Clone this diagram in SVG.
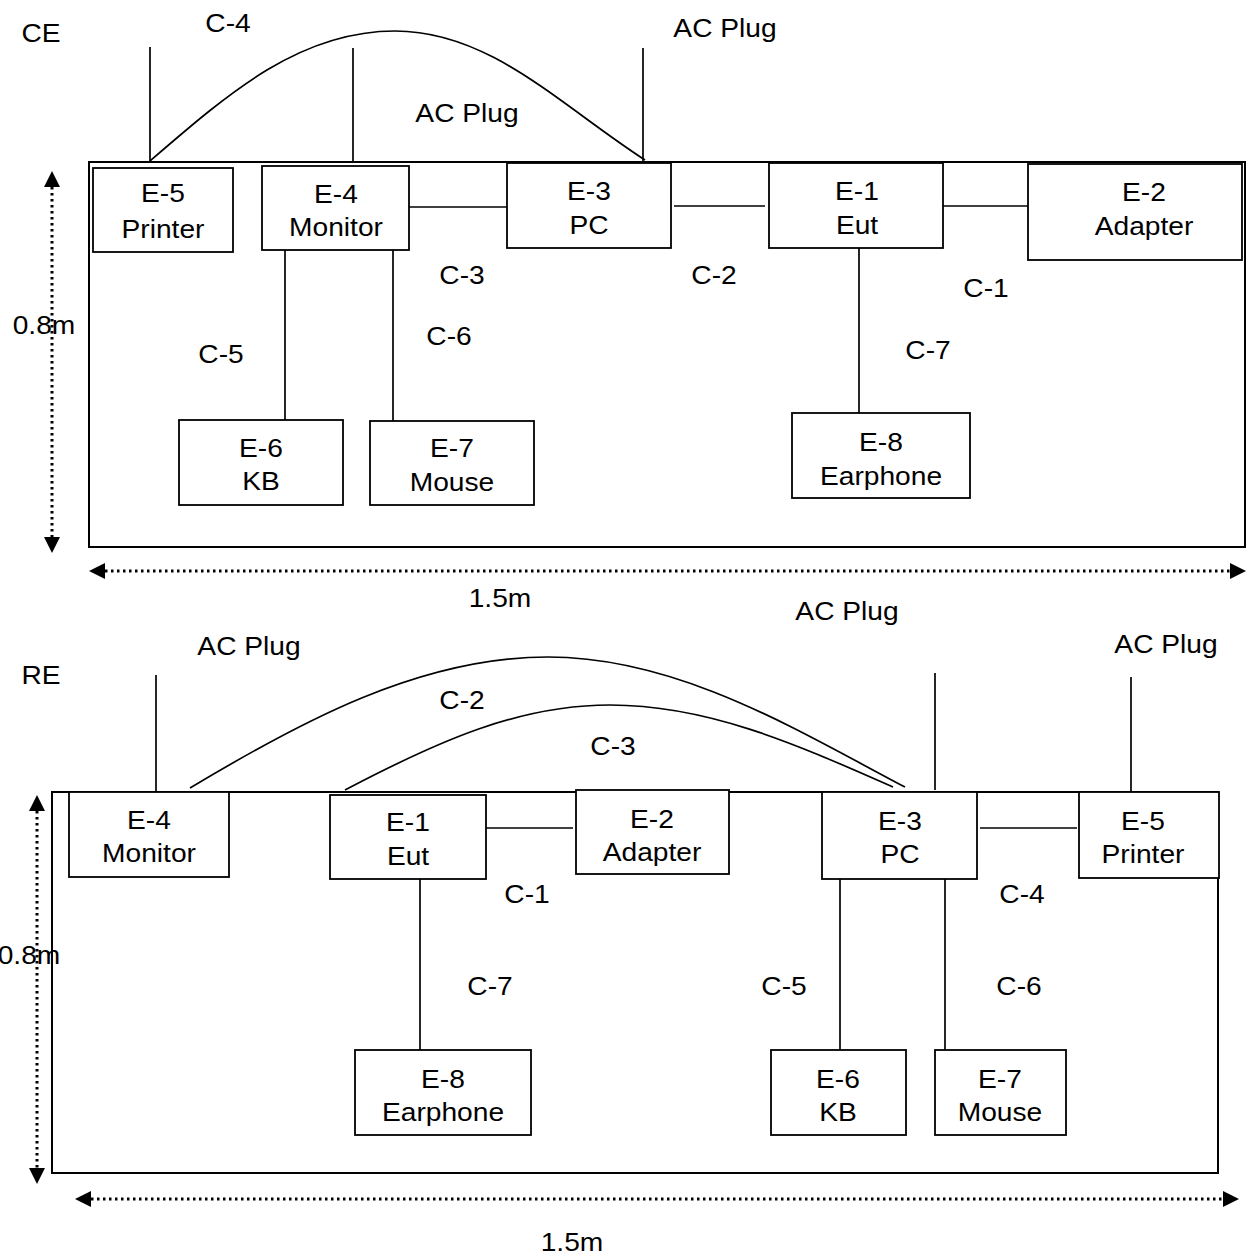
<svg xmlns="http://www.w3.org/2000/svg" width="1247" height="1260" viewBox="0 0 1247 1260">
<defs>
<style>
.bx{fill:#fff;stroke:#000;stroke-width:1.8}
.frame{fill:none;stroke:#000;stroke-width:2}
.ln{fill:none;stroke:#000;stroke-width:1.7}
.dim{fill:none;stroke:#000;stroke-width:3;stroke-dasharray:2.5 3.5}
.t{font-family:"Liberation Sans",Arial,sans-serif;font-size:25.6px;fill:#000;text-anchor:middle}
</style>
<marker id="ah" viewBox="0 0 16 16" refX="0" refY="8" markerWidth="16" markerHeight="16" markerUnits="userSpaceOnUse" orient="auto-start-reverse">
<path d="M0,0 L16,8 L0,16 Z" fill="#000"/>
</marker>
</defs>
<rect width="1247" height="1260" fill="#fff"/>

<!-- ===== CE section ===== -->
<rect id="ce-frame" class="frame" x="89" y="162" width="1156" height="385"/>

<g id="connectors-ce">
<path class="ln" d="M150,47 V162"/>
<path class="ln" d="M353,48 V162"/>
<path class="ln" d="M643,48 V162"/>
<path class="ln" d="M150,161 C230,92 300,31 395,31 C490,31 560,105 645,160"/>
<path class="ln" d="M409,207 H507"/>
<path class="ln" d="M674,206 H765"/>
<path class="ln" d="M938,206 H1029"/>
<path class="ln" d="M859,248 V413"/>
<path class="ln" d="M285,250 V420"/>
<path class="ln" d="M393,250 V421"/>
<path class="dim" d="M52,187 V537" marker-start="url(#ah)" marker-end="url(#ah)"/>
<path class="dim" d="M105,571 H1230" marker-start="url(#ah)" marker-end="url(#ah)"/>
</g>

<g id="ce-E5"><rect class="bx" x="93" y="168" width="140" height="84"/>
<text class="t" transform="translate(163,202) scale(1.1,1)">E-5</text>
<text class="t" transform="translate(163,238) scale(1.1,1)">Printer</text></g>
<g id="ce-E4"><rect class="bx" x="262" y="166" width="147" height="84"/>
<text class="t" transform="translate(336,203) scale(1.1,1)">E-4</text>
<text class="t" transform="translate(336,236) scale(1.1,1)">Monitor</text></g>
<g id="ce-E3"><rect class="bx" x="507" y="163" width="164" height="85"/>
<text class="t" transform="translate(589,200) scale(1.1,1)">E-3</text>
<text class="t" transform="translate(589,234) scale(1.1,1)">PC</text></g>
<g id="ce-E1"><rect class="bx" x="769" y="163" width="174" height="85"/>
<text class="t" transform="translate(857,200) scale(1.1,1)">E-1</text>
<text class="t" transform="translate(857,234) scale(1.1,1)">Eut</text></g>
<g id="ce-E2"><rect class="bx" x="1028" y="164" width="214" height="96"/>
<text class="t" transform="translate(1144,201) scale(1.1,1)">E-2</text>
<text class="t" transform="translate(1144,235) scale(1.1,1)">Adapter</text></g>
<g id="ce-E6"><rect class="bx" x="179" y="420" width="164" height="85"/>
<text class="t" transform="translate(261,457) scale(1.1,1)">E-6</text>
<text class="t" transform="translate(261,490) scale(1.1,1)">KB</text></g>
<g id="ce-E7"><rect class="bx" x="370" y="421" width="164" height="84"/>
<text class="t" transform="translate(452,457) scale(1.1,1)">E-7</text>
<text class="t" transform="translate(452,491) scale(1.1,1)">Mouse</text></g>
<g id="ce-E8"><rect class="bx" x="792" y="413" width="178" height="85"/>
<text class="t" transform="translate(881,451) scale(1.1,1)">E-8</text>
<text class="t" transform="translate(881,485) scale(1.1,1)">Earphone</text></g>

<g id="ce-labels">
<text class="t" transform="translate(41,42) scale(1.1,1)">CE</text>
<text class="t" transform="translate(228,32) scale(1.1,1)">C-4</text>
<text class="t" transform="translate(725,37) scale(1.1,1)">AC Plug</text>
<text class="t" transform="translate(467,122) scale(1.1,1)">AC Plug</text>
<text class="t" transform="translate(462,284) scale(1.1,1)">C-3</text>
<text class="t" transform="translate(714,284) scale(1.1,1)">C-2</text>
<text class="t" transform="translate(986,297) scale(1.1,1)">C-1</text>
<text class="t" transform="translate(221,363) scale(1.1,1)">C-5</text>
<text class="t" transform="translate(449,345) scale(1.1,1)">C-6</text>
<text class="t" transform="translate(928,359) scale(1.1,1)">C-7</text>
<text class="t" transform="translate(44,334) scale(1.1,1)">0.8m</text>
<text class="t" transform="translate(500,607) scale(1.1,1)">1.5m</text>
</g>

<!-- ===== RE section ===== -->
<rect id="re-frame" class="frame" x="52" y="792" width="1166" height="381"/>

<g id="connectors-re">
<path class="ln" d="M156,675 V792"/>
<path class="ln" d="M935,673 V790"/>
<path class="ln" d="M1131,677 V792"/>
<path class="ln" d="M190,788 C300,722 420,657 548,657 C680,657 800,732 905,787"/>
<path class="ln" d="M345,790 C440,740 520,705 610,705 C710,705 800,746 893,787"/>
<path class="ln" d="M486,828 H573"/>
<path class="ln" d="M980,828 H1077"/>
<path class="ln" d="M420,879 V1050"/>
<path class="ln" d="M840,879 V1050"/>
<path class="ln" d="M945,879 V1050"/>
<path class="dim" d="M37,811 V1168" marker-start="url(#ah)" marker-end="url(#ah)"/>
<path class="dim" d="M91,1199 H1223" marker-start="url(#ah)" marker-end="url(#ah)"/>
</g>

<g id="re-E4"><rect class="bx" x="69" y="792" width="160" height="85"/>
<text class="t" transform="translate(149,829) scale(1.1,1)">E-4</text>
<text class="t" transform="translate(149,862) scale(1.1,1)">Monitor</text></g>
<g id="re-E1"><rect class="bx" x="330" y="795" width="156" height="84"/>
<text class="t" transform="translate(408,831) scale(1.1,1)">E-1</text>
<text class="t" transform="translate(408,865) scale(1.1,1)">Eut</text></g>
<g id="re-E2"><rect class="bx" x="576" y="790" width="153" height="84"/>
<text class="t" transform="translate(652,828) scale(1.1,1)">E-2</text>
<text class="t" transform="translate(652,861) scale(1.1,1)">Adapter</text></g>
<g id="re-E3"><rect class="bx" x="822" y="792" width="155" height="87"/>
<text class="t" transform="translate(900,830) scale(1.1,1)">E-3</text>
<text class="t" transform="translate(900,863) scale(1.1,1)">PC</text></g>
<g id="re-E5"><rect class="bx" x="1079" y="792" width="140" height="86"/>
<text class="t" transform="translate(1143,830) scale(1.1,1)">E-5</text>
<text class="t" transform="translate(1143,863) scale(1.1,1)">Printer</text></g>
<g id="re-E8"><rect class="bx" x="355" y="1050" width="176" height="85"/>
<text class="t" transform="translate(443,1088) scale(1.1,1)">E-8</text>
<text class="t" transform="translate(443,1121) scale(1.1,1)">Earphone</text></g>
<g id="re-E6"><rect class="bx" x="771" y="1050" width="135" height="85"/>
<text class="t" transform="translate(838,1088) scale(1.1,1)">E-6</text>
<text class="t" transform="translate(838,1121) scale(1.1,1)">KB</text></g>
<g id="re-E7"><rect class="bx" x="935" y="1050" width="131" height="85"/>
<text class="t" transform="translate(1000,1088) scale(1.1,1)">E-7</text>
<text class="t" transform="translate(1000,1121) scale(1.1,1)">Mouse</text></g>

<g id="re-labels">
<text class="t" transform="translate(41,684) scale(1.1,1)">RE</text>
<text class="t" transform="translate(847,620) scale(1.1,1)">AC Plug</text>
<text class="t" transform="translate(249,655) scale(1.1,1)">AC Plug</text>
<text class="t" transform="translate(1166,653) scale(1.1,1)">AC Plug</text>
<text class="t" transform="translate(462,709) scale(1.1,1)">C-2</text>
<text class="t" transform="translate(613,755) scale(1.1,1)">C-3</text>
<text class="t" transform="translate(527,903) scale(1.1,1)">C-1</text>
<text class="t" transform="translate(1022,903) scale(1.1,1)">C-4</text>
<text class="t" transform="translate(490,995) scale(1.1,1)">C-7</text>
<text class="t" transform="translate(784,995) scale(1.1,1)">C-5</text>
<text class="t" transform="translate(1019,995) scale(1.1,1)">C-6</text>
<text class="t" transform="translate(29,964) scale(1.1,1)">0.8m</text>
<text class="t" transform="translate(572,1251) scale(1.1,1)">1.5m</text>
</g>
</svg>
